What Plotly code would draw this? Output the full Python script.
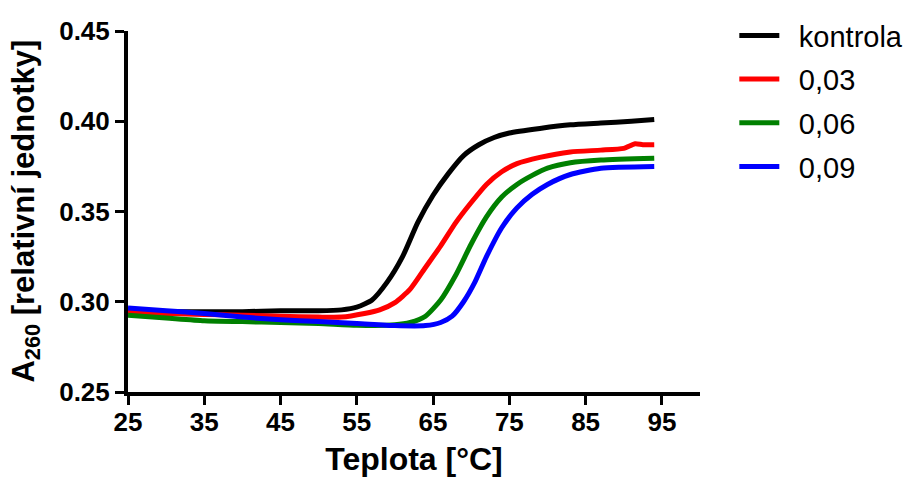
import plotly.graph_objects as go

# Melting curves: absorbance at 260 nm vs temperature
names = ["kontrola", "0,03", "0,06", "0,09"]
colors = ["#000000", "#FF0000", "#008000", "#0000FF"]

t_kontrola = [25, 30, 35, 40, 45, 50, 53, 55, 57, 59, 61, 63, 65, 67, 69, 71, 73, 75, 79, 83, 87, 91, 94]
a_kontrola = [0.2955, 0.2945, 0.2945, 0.2945, 0.295, 0.295, 0.2955, 0.297, 0.301, 0.311, 0.325, 0.344,
              0.359, 0.371, 0.381, 0.387, 0.391, 0.3935, 0.396, 0.398, 0.399, 0.400, 0.401]

t_003 = [25, 30, 35, 40, 45, 50, 53, 56, 58, 60, 62, 64, 66, 68, 70, 72, 74, 76, 79, 83, 87, 90, 91.5, 92.5, 94]
a_003 = [0.2945, 0.2935, 0.293, 0.2925, 0.292, 0.2915, 0.2915, 0.2935, 0.2955, 0.2995, 0.307, 0.319,
         0.331, 0.344, 0.355, 0.365, 0.372, 0.3765, 0.380, 0.383, 0.384, 0.385, 0.3875, 0.387, 0.387]

t_006 = [25, 30, 35, 40, 45, 50, 55, 60, 62, 64, 66, 68, 70, 72, 74, 76, 78, 80, 83, 87, 94]
a_006 = [0.2925, 0.291, 0.2895, 0.289, 0.2885, 0.288, 0.287, 0.2872, 0.2885, 0.292, 0.301, 0.315,
         0.332, 0.347, 0.358, 0.365, 0.370, 0.374, 0.377, 0.3785, 0.3795]

t_009 = [25, 30, 35, 40, 45, 50, 55, 60, 64, 66, 67.5, 69, 70.5, 72, 74, 76, 78, 80, 83, 87, 94]
a_009 = [0.2965, 0.295, 0.2935, 0.2915, 0.290, 0.289, 0.288, 0.2868, 0.2868, 0.2885, 0.292, 0.300,
         0.311, 0.325, 0.341, 0.352, 0.3595, 0.365, 0.3705, 0.374, 0.375]

x_ticks = [25, 35, 45, 55, 65, 75, 85, 95]
y_ticks = [0.25, 0.30, 0.35, 0.40, 0.45]

series = [(t_kontrola, a_kontrola), (t_003, a_003), (t_006, a_006), (t_009, a_009)]

FONT = "Liberation Sans, Arial, sans-serif"

fig = go.Figure()
for (t, a), name, c in zip(series, names, colors):
    fig.add_trace(go.Scatter(
        x=t, y=a, mode="lines", name="\u2002" + name, legendgroup=name,
        line=dict(color=c, width=5, shape="spline", smoothing=0.6),
    ))

fig.update_layout(
    width=913, height=484,
    margin=dict(l=128, r=213, t=31, b=92, autoexpand=False),
    paper_bgcolor="white", plot_bgcolor="white",
    font=dict(family=FONT, color="black"),
    showlegend=True,
    legend=dict(
        x=1.06, y=1.058, xanchor="left", yanchor="top",
        font=dict(size=29, family=FONT),
        tracegroupgap=3, itemwidth=40,
        bgcolor="rgba(0,0,0,0)",
    ),
    xaxis=dict(
        range=[25, 100], tickvals=x_ticks, ticktext=[str(v) for v in x_ticks],
        showline=True, linecolor="black", linewidth=4, mirror=False,
        ticks="outside", ticklen=9, tickwidth=3, tickcolor="black",
        showgrid=False, zeroline=False, automargin=False,
        tickfont=dict(size=26, weight="bold", family=FONT),
        ticklabelstandoff=-5,
        title=dict(text="Teplota [°C]", font=dict(size=32, weight="bold", family=FONT), standoff=12),
    ),
    yaxis=dict(
        range=[0.25, 0.45], tickvals=y_ticks, ticktext=[f"{v:.2f}" for v in y_ticks],
        showline=True, linecolor="black", linewidth=4, mirror=False,
        ticks="outside", ticklen=9, tickwidth=3, tickcolor="black",
        showgrid=False, zeroline=False, automargin=False,
        tickfont=dict(size=26, weight="bold", family=FONT),
    ),
    annotations=[dict(
        text="A<sub>260</sub> [relativní jednotky]",
        xref="paper", yref="paper", x=-0.18, y=0.5,
        xanchor="center", yanchor="middle", textangle=-90, showarrow=False,
        font=dict(size=31, weight="bold", family=FONT, color="black"),
    )],
)

fig.write_html("out.html")
